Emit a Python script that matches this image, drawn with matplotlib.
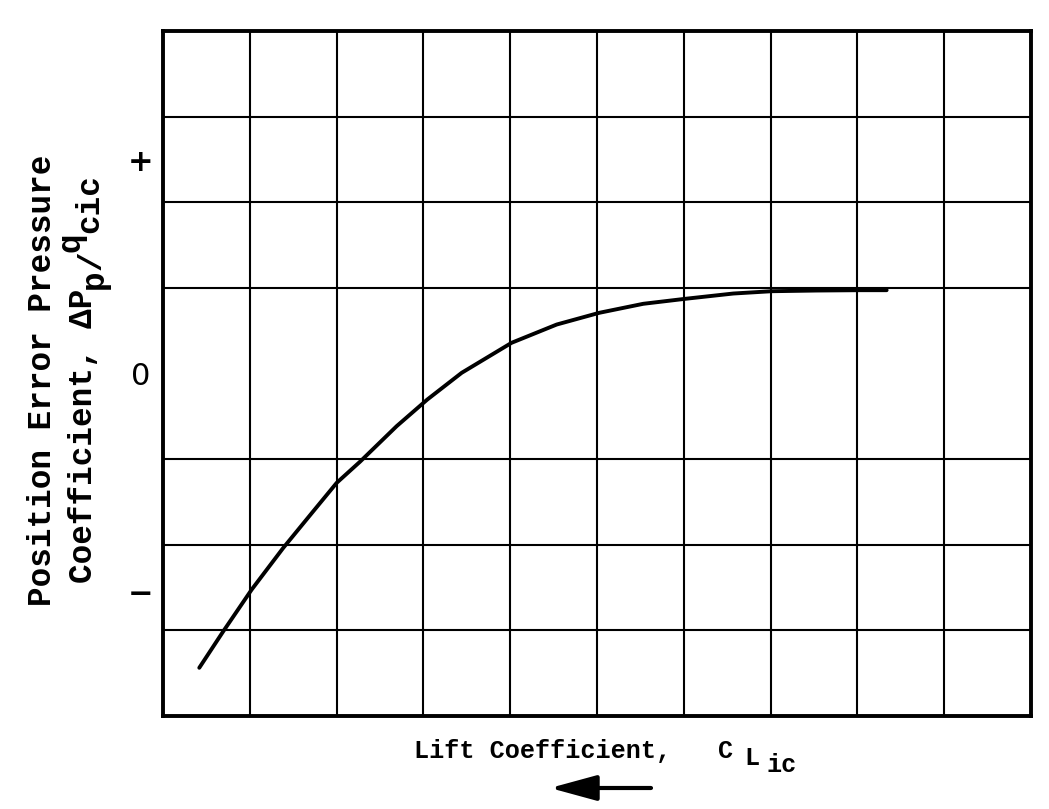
import matplotlib
matplotlib.use("Agg")
import matplotlib.pyplot as plt
import numpy as np

# Data (grid units)
cl = [0.418, 0.695, 1.022, 1.386, 1.732, 2.001, 2.270, 2.692, 3.045,
      3.441, 4.017, 4.536, 5.027, 5.533, 6.014, 6.570, 7.013, 7.531, 8.030, 8.337]
dp = [-3.437, -3.010, -2.523, -2.036, -1.608, -1.277, -1.030, -0.615, -0.304,
      0.008, 0.359, 0.572, 0.709, 0.814, 0.872, 0.934, 0.961, 0.969, 0.973, 0.973]
ytick_pos = [2.5, 0.0, -2.55]
ytick_labels = ["+", "0", "\u2212"]

FONT = 'Liberation Mono'
W, H = 1049, 809

fig = plt.figure(figsize=(W / 100, H / 100), dpi=100)
ax = fig.add_axes([163 / W, 1 - 716 / H, 868 / W, 685 / H])

ax.plot(cl, dp, color='black', lw=2.8, solid_capstyle='round', solid_joinstyle='round')

ax.set_xlim(0, 10)
ax.set_ylim(-4, 4)
ax.set_xticks(np.arange(0, 11), minor=True)
ax.set_yticks(np.arange(-4, 5), minor=True)
ax.set_xticks([])
ax.set_yticks(ytick_pos, labels=ytick_labels)
ax.grid(which='minor', color='black', lw=1.5)
ax.tick_params(which='both', length=0)
ax.tick_params(axis='y', which='major', pad=16, labelsize=22)
for lab, wt in zip(ax.get_yticklabels(), ['bold', 'normal', 'bold']):
    lab.set_fontweight(wt)
    lab.set_family('DejaVu Sans')
    lab.set_ha('center')
for s in ax.spines.values():
    s.set_linewidth(2.8)


def ptext(px, py, s, size, rot=0, ha='left'):
    """Place text with its baseline anchor at pixel position (px, py from top)."""
    fig.text(px / W, 1 - py / H, s, fontsize=size, family=FONT, fontweight='bold',
             rotation=rot, rotation_mode='anchor', ha=ha, va='baseline')


# x-axis label (typewriter style: subscripts are lowered full-size characters)
ptext(414, 758, "Lift Coefficient,", 18.1)
ptext(718, 758, "C", 18.1)
ptext(744, 765, "L", 18.1)
ptext(767, 772, "ic", 18.1)

# y-axis label, line 1
ptext(51, 380, "Position Error Pressure", 23.5, rot=90, ha='center')
# y-axis label, line 2 (pieces read bottom to top)
ptext(92, 583, "Coefficient, \u0394P", 23.5, rot=90)
ptext(103, 289, "p", 23.5, rot=90)
ptext(101, 270, "/", 23.5, rot=90)
ptext(80, 252, "q", 23.5, rot=90)
ptext(98, 233, "cic", 23.5, rot=90)

# Direction arrow
ax.annotate('', xy=(550 / W, 1 - 788 / H), xytext=(651 / W, 1 - 788 / H),
            xycoords='figure fraction', textcoords='figure fraction',
            arrowprops=dict(arrowstyle='-|>,head_length=1.1,head_width=0.3',
                            lw=3, color='black', mutation_scale=26,
                            shrinkA=0, shrinkB=0))

fig.savefig('out.png', dpi=100)
